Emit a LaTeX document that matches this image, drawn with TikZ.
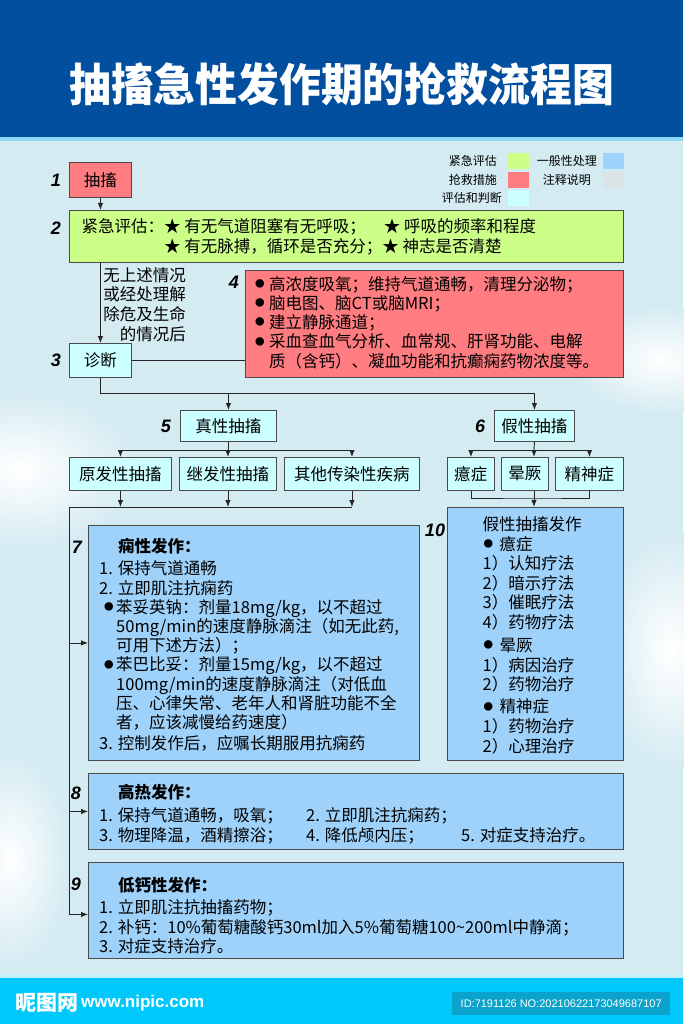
\documentclass[tikz,border=0pt]{standalone}
\usepackage{fontspec}
\setmainfont{Noto Sans CJK SC}
\newfontfamily\numfont{Liberation Sans}
\usetikzlibrary{arrows.meta}
\definecolor{headblue}{HTML}{024E9F}
\definecolor{headstrip}{HTML}{8CDAF3}
\definecolor{skybg}{HTML}{D4EBF2}
\definecolor{evalgreen}{HTML}{CCFF88}
\definecolor{rescuered}{HTML}{FF7C80}
\definecolor{judgecyan}{HTML}{CCFFFF}
\definecolor{careblue}{HTML}{9FD2FB}
\definecolor{notegrey}{HTML}{DCE3E6}
\definecolor{footcyan}{HTML}{00C8FA}
\definecolor{idteal}{HTML}{0BA3CB}
\definecolor{edge}{HTML}{4A4A4A}
\newcommand\dotmark[1][4pt]{\makebox[17pt][l]{\hspace{#1}\raisebox{2.7pt}{\fontsize{9.5}{9.5}\selectfont ●}}}

\begin{document}
\begin{tikzpicture}[x=1pt,y=-1pt,
  box/.style={draw=edge,line width=0.9pt,anchor=north west,inner sep=0pt,font=\fontsize{16.5}{19.6}\selectfont},
  txt/.style={font=\fontsize{16.5}{19.6}\selectfont,align=left,inner sep=0pt},
  num/.style={font=\numfont\bfseries\itshape\fontsize{18}{18}\selectfont,inner sep=0pt},
  key/.style={font=\fontsize{12}{12}\selectfont,inner sep=0pt},
  swatch/.style={minimum width=21pt,minimum height=16pt,inner sep=0pt,anchor=north west},
  arr/.style={-{Latex[length=7pt,width=5.5pt]},line width=0.9pt,draw=black!85},
  link/.style={line width=0.9pt,draw=black!85}]
  \useasboundingbox (0,0) rectangle (683,1024);
  % backdrop
  \fill[skybg] (0,137) rectangle (683,976);
  \shade[inner color=white,outer color=skybg] (20,470) ellipse (120 and 80);
  \shade[inner color=white,outer color=skybg] (660,360) ellipse (90 and 55);
  \shade[inner color=white,outer color=skybg] (670,650) ellipse (70 and 120);
  \shade[inner color=white,outer color=skybg] (10,860) ellipse (60 and 110);
  \fill[headblue] (0,0) rectangle (683,137);
  \fill[headstrip] (0,137) rectangle (683,141);
  \fill[white!75!footcyan] (0,975) rectangle (683,978);
  \fill[footcyan] (0,978) rectangle (683,1024);
  \node[font=\bfseries\fontsize{45}{45}\selectfont,text=white] (title) at (342,84) {\scalebox{0.93}[1]{抽搐急性发作期的抢救流程图}};

  % legend
  \node[key,anchor=east] (keyeval) at (497,161) {紧急评估};
  \node[swatch,fill=evalgreen] (swgreen) at (508,153) {};
  \node[key,anchor=east] (keycare) at (597,161) {一般性处理};
  \node[swatch,fill=careblue] (swblue) at (603,153) {};
  \node[key,anchor=east] (keyrescue) at (497,180) {抢救措施};
  \node[swatch,fill=rescuered] (swred) at (508,172) {};
  \node[key,anchor=east] (keynote) at (591,180) {注释说明};
  \node[swatch,fill=notegrey] (swgrey) at (603,172) {};
  \node[key,anchor=east] (keyjudge) at (502,198) {评估和判断};
  \node[swatch,fill=judgecyan] (swcyan) at (508,190) {};

  % steps 1--4
  \node[num] (n1) at (56,180) {1};
  \node[box,fill=rescuered,minimum width=62pt,minimum height=35pt] (fit) at (69,162) {抽搐};
  \node[num] (n2) at (56,228) {2};
  \node[box,fill=evalgreen,minimum width=554pt,minimum height=52pt] (eval) at (69,210) {};
  \node[txt,anchor=west] (evaltxt) at (81.5,237) {紧急评估：★ 有无气道阻塞有无呼吸；\hspace{18pt}★ 呼吸的频率和程度\\\hspace*{82.5pt}★ 有无脉搏，循环是否充分；★ 神志是否清楚};
  \draw[arr] (fit.south) -- (fit.south |- eval.north);

  \node[num] (n3) at (56,360) {3};
  \node[box,fill=judgecyan,minimum width=62pt,minimum height=34pt] (diag) at (69,343) {诊断};
  \draw[arr] (diag.north |- eval.south) -- (diag.north);
  \node[txt,align=right,anchor=east] (nolife) at (186,304.5) {无上述情况\\或经处理解\\除危及生命\\的情况后};

  \node[num] (n4) at (234,282) {4};
  \node[box,fill=rescuered,minimum width=378pt,minimum height=107pt] (rescue) at (245,270) {};
  \node[txt,anchor=west,font=\fontsize{16.5}{19.3}\selectfont] (rescuetxt) at (252,322.5) {\dotmark[3pt]高浓度吸氧；维持气道通畅，清理分泌物；\\\dotmark[3pt]脑电图、脑CT或脑MRI；\\\dotmark[3pt]建立静脉通道；\\\dotmark[3pt]采血查血气分析、血常规、肝肾功能、电解\\\hspace*{17pt}质（含钙）、凝血功能和抗癫痫药物浓度等。};
  \draw[link] (diag.east) -- (diag.east -| rescue.west);

  % steps 5--6
  \coordinate (fork) at (100,393);
  \node[num] (n5) at (166,426) {5};
  \node[box,fill=judgecyan,minimum width=96pt,minimum height=31pt] (truefit) at (180,410) {真性抽搐};
  \node[num] (n6) at (480,426) {6};
  \node[box,fill=judgecyan,minimum width=80pt,minimum height=31pt] (falsefit) at (494,410) {假性抽搐};
  \draw[arr] (diag.south) |- (fork -| falsefit.north) -- (falsefit.north);
  \draw[arr] (fork -| truefit.north) -- (truefit.north);

  \node[box,fill=judgecyan,minimum width=102pt,minimum height=33pt] (primary) at (69,457) {原发性抽搐};
  \node[box,fill=judgecyan,minimum width=97pt,minimum height=33pt] (secondary) at (179,457) {继发性抽搐};
  \node[box,fill=judgecyan,minimum width=135pt,minimum height=33pt] (infect) at (284,457) {其他传染性疾病};
  \node[box,fill=judgecyan,minimum width=47pt,minimum height=33pt] (hysteria) at (447,457) {癔症};
  \node[box,fill=judgecyan,minimum width=47pt,minimum height=33pt] (syncope) at (501,457) {晕厥};
  \node[box,fill=judgecyan,minimum width=68pt,minimum height=33pt] (psychosis) at (555,457) {精神症};

  \coordinate (truefork) at (228,450);
  \draw[link] (truefit.south) -- (truefit.south |- truefork);
  \draw[link] (primary.north |- truefork) -- (infect.north |- truefork);
  \draw[arr] (primary.north |- truefork) -- (primary.north);
  \draw[arr] (secondary.north |- truefork) -- (secondary.north);
  \draw[arr] (infect.north |- truefork) -- (infect.north);

  \coordinate (falsefork) at (534,450);
  \draw[link] (falsefit.south) -- (falsefork);
  \draw[link] (hysteria.north |- falsefork) -- (psychosis.north |- falsefork);
  \draw[arr] (hysteria.north |- falsefork) -- (hysteria.north);
  \draw[arr] (falsefork) -- (falsefork |- syncope.north);
  \draw[arr] (psychosis.north |- falsefork) -- (psychosis.north);

  % steps 7--10
  \node[num] (n7) at (77,547) {7};
  \node[box,fill=careblue,minimum width=331pt,minimum height=235pt] (epilepsy) at (88,525) {};
  \node[txt,anchor=west,font=\fontsize{16.5}{19.2}\selectfont] (epilepsytxt) at (99,645) {\hspace*{19pt}\textbf{痫性发作：}\\[2.8pt]1. 保持气道通畅\\2. 立即肌注抗痫药\\\dotmark[5pt]苯妥英钠：剂量18mg/kg，以不超过\\\hspace*{17pt}50mg/min的速度静脉滴注（如无此药,\\\hspace*{17pt}可用下述方法）；\\\dotmark[5pt]苯巴比妥：剂量15mg/kg，以不超过\\\hspace*{17pt}100mg/min的速度静脉滴注（对低血\\\hspace*{17pt}压、心律失常、老年人和肾脏功能不全\\\hspace*{17pt}者，应该减慢给药速度）\\[1.8pt]3. 控制发作后，应嘱长期服用抗痫药};

  \node[num] (n8) at (76,793) {8};
  \node[box,fill=careblue,minimum width=535pt,minimum height=76pt] (fever) at (88,773) {};
  \node[txt,anchor=west] (fevertxt) at (99,814) {\hspace*{19pt}\textbf{高热发作：}\\[3.5pt]\makebox[207pt][l]{1. 保持气道通畅，吸氧；}2. 立即肌注抗痫药；\\\makebox[207pt][l]{3. 物理降温，酒精擦浴；}\makebox[155pt][l]{4. 降低颅内压；}5. 对症支持治疗。};

  \node[num] (n9) at (76,884) {9};
  \node[box,fill=careblue,minimum width=535pt,minimum height=96pt] (calcium) at (88,862) {};
  \node[txt,anchor=west] (calciumtxt) at (99,915.5) {\hspace*{19pt}\textbf{低钙性发作：}\\[2.5pt]1. 立即肌注抗抽搐药物；\\2. 补钙：10\%葡萄糖酸钙30ml加入5\%葡萄糖100\textasciitilde200ml中静滴；\\3. 对症支持治疗。};

  \node[num] (n10) at (435,530) {10};
  \node[box,fill=careblue,minimum width=176pt,minimum height=253pt] (pseudo) at (447,507) {};
  \node[txt,anchor=west] (pseudotxt) at (482.5,635) {假性抽搐发作\\\dotmark[1pt]癔症\\1）认知疗法\\2）暗示疗法\\3）催眠疗法\\4）药物疗法\\[3.5pt]\dotmark[1pt]晕厥\\1）病因治疗\\2）药物治疗\\[2.5pt]\dotmark[1pt]精神症\\1）药物治疗\\2）心理治疗};

  \coordinate (trunk) at (69,507);
  \draw[link] (trunk) -- (trunk -| infect.south);
  \draw[arr] (primary.south) -- (primary.south |- trunk);
  \draw[arr] (secondary.south) -- (secondary.south |- trunk);
  \draw[arr] (infect.south) -- (infect.south |- trunk);
  \draw[arr] (trunk) |- (epilepsy.west);
  \draw[arr] (trunk) |- (fever.west);
  \draw[arr] (trunk) |- ([yshift=-4pt]calcium.west);

  \coordinate (falsejoin) at (534,498);
  \draw[link] (hysteria.south) |- (falsejoin) -| (psychosis.south);
  \draw[arr] (falsejoin |- syncope.south) -- (falsejoin |- pseudo.north);

  % footer
  \node[font=\bfseries\fontsize{21}{21}\selectfont,text=white,anchor=west,inner sep=0pt] (brand) at (15,1003) {昵图网};
  \node[font=\numfont\bfseries\fontsize{17}{17}\selectfont,text=white,anchor=west,inner sep=0pt] (site) at (81,1003) {www.nipic.com};
  \node[fill=idteal,minimum width=218pt,minimum height=23pt,anchor=north west,inner sep=0pt,text=white,font=\numfont\fontsize{11}{11}\selectfont] (idtag) at (452,992) {ID:7191126 NO:20210622173049687107};
\end{tikzpicture}
\end{document}
